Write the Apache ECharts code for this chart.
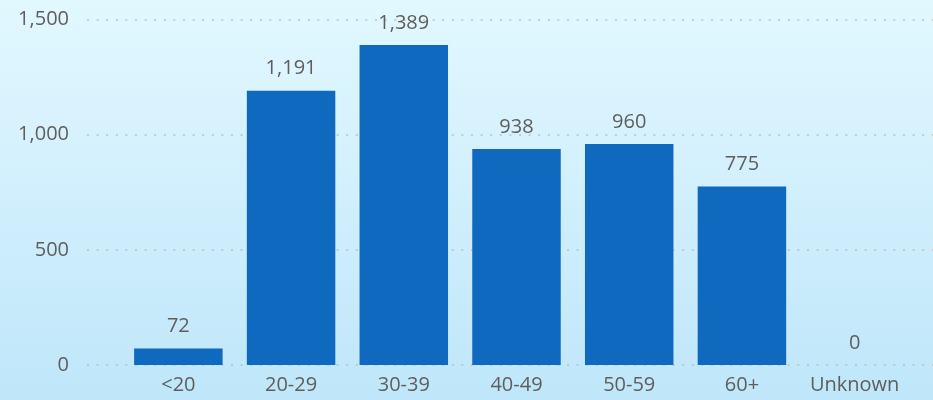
<!DOCTYPE html>
<html>
<head>
<meta charset="utf-8">
<script src="https://cdn.jsdelivr.net/npm/echarts@6/dist/echarts.min.js"></script>
<style>
  html, body { margin: 0; padding: 0; }
  #chart { width: 933px; height: 400px; }
</style>
</head>
<body>
<div id="chart"></div>
<script>
// age groups
const categories = ['<20', '20-29', '30-39', '40-49', '50-59', '60+', 'Unknown']
const counts = [72, 1191, 1389, 938, 960, 775, 0]
const yTicks = [0, 500, 1000, 1500]

const font = '"Open Sans", "DejaVu Sans", sans-serif'
const textColor = '#605E5C'

const chart = echarts.init(document.getElementById('chart'))

chart.setOption({
  backgroundColor: new echarts.graphic.LinearGradient(0, 0, 0, 1, [
    { offset: 0, color: '#E2F8FF' },
    { offset: 1, color: '#BFE6FA' }
  ]),
  animation: false,
  grid: [
    // grid for y axis labels + dotted lines (wider than bars)
    { left: 87, right: 0, top: 19.5, bottom: 35 },
    // grid for bars
    { left: 122, right: 22, top: 19.5, bottom: 35 }
  ],
  xAxis: [
    { type: 'value', gridIndex: 0, show: false, min: 0, max: 1 },
    {
      type: 'category',
      gridIndex: 1,
      data: categories,
      axisLine: { show: false },
      axisTick: { show: false },
      axisLabel: {
        interval: 0,
        hideOverlap: false,
        color: textColor,
        fontFamily: font,
        fontSize: 20,
        margin: 10
      }
    }
  ],
  yAxis: [
    {
      type: 'value',
      gridIndex: 0,
      min: yTicks[0],
      max: yTicks[yTicks.length - 1],
      interval: 500,
      axisLine: { show: false },
      axisTick: { show: false },
      axisLabel: {
        color: textColor,
        fontFamily: font,
        fontSize: 20,
        margin: 18,
        formatter: v => v.toLocaleString('en-US')
      },
      splitLine: {
        lineStyle: { color: '#BEBEBE', width: 1.5, type: [2, 7.6] }
      }
    },
    {
      type: 'value',
      gridIndex: 1,
      min: yTicks[0],
      max: yTicks[yTicks.length - 1],
      interval: 500,
      show: false,
      splitLine: { show: false }
    }
  ],
  series: [{
    type: 'bar',
    xAxisIndex: 1,
    yAxisIndex: 1,
    data: counts,
    barCategoryGap: '21.5%',
    itemStyle: { color: '#0F69BE' },
    label: {
      show: true,
      position: 'top',
      distance: 12,
      color: textColor,
      fontFamily: font,
      fontSize: 20,
      formatter: p => p.value.toLocaleString('en-US')
    }
  }]
})
</script>
</body>
</html>
